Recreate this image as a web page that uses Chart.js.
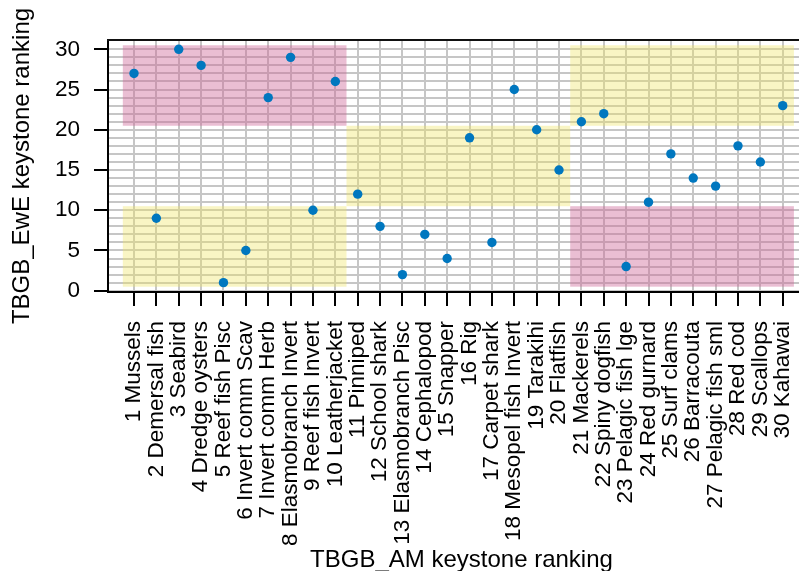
<!DOCTYPE html>
<html>
<head>
<meta charset="utf-8">
<script src="https://cdn.jsdelivr.net/npm/chart.js@4.4.1/dist/chart.umd.min.js"></script>
<style>
  html, body { margin: 0; padding: 0; background: #ffffff; overflow: hidden; width: 799px; height: 571px; }
  #wrap { position: absolute; left: 0; top: 0; width: 815px; height: 571px; }
  canvas { display: block; }
</style>
</head>
<body>
<div id="wrap"><canvas id="c" width="815" height="571" style="width:815px;height:571px"></canvas></div>
<script>
// ---- data ----
const groups = [
  "1 Mussels", "2 Demersal fish", "3 Seabird", "4 Dredge oysters", "5 Reef fish Pisc",
  "6 Invert comm Scav", "7 Invert comm Herb", "8 Elasmobranch Invert", "9 Reef fish Invert", "10 Leatherjacket",
  "11 Pinniped", "12 School shark", "13 Elasmobranch Pisc", "14 Cephalopod", "15 Snapper",
  "16 Rig", "17 Carpet shark", "18 Mesopel fish Invert", "19 Tarakihi", "20 Flatfish",
  "21 Mackerels", "22 Spiny dogfish", "23 Pelagic fish lge", "24 Red gurnard", "25 Surf clams",
  "26 Barracouta", "27 Pelagic fish sml", "28 Red cod", "29 Scallops", "30 Kahawai"
];
const amRank = [1,2,3,4,5,6,7,8,9,10,11,12,13,14,15,16,17,18,19,20,21,22,23,24,25,26,27,28,29,30];
const eweRank = [27, 9, 30, 28, 1, 5, 24, 29, 10, 26, 12, 8, 2, 7, 4, 19, 6, 25, 20, 15, 21, 22, 3, 11, 17, 14, 13, 18, 16, 23];
const yTickValues = [0,1,2,3,4,5,6,7,8,9,10,11,12,13,14,15,16,17,18,19,20,21,22,23,24,25,26,27,28,29,30];
const yLabelStep = 5;

// shaded quadrants (in ranking units)
const boxXFrom = [0.5, 0.5, 10.5, 20.5, 20.5];
const boxXTo   = [10.5, 10.5, 20.5, 30.5, 30.5];
const boxYFrom = [20.5, 0.5, 10.5, 20.5, 0.5];
const boxYTo   = [30.5, 10.5, 20.5, 30.5, 10.5];
const boxKind  = ["pink", "yellow", "yellow", "yellow", "pink"];

// ---- styles ----
const boxFill = { pink: "rgba(205,100,150,0.42)", yellow: "rgba(240,230,100,0.38)" };
const FONT = "'Liberation Sans', Arial, Helvetica, sans-serif";
const GRID = "#c6c6c6";

const quadrantPlugin = {
  id: "quadrants",
  beforeDatasetsDraw(chart) {
    const { ctx, chartArea, scales } = chart;
    const xs = scales.x, ys = scales.y;
    ctx.save();
    ctx.beginPath();
    ctx.rect(chartArea.left, chartArea.top, chartArea.right - chartArea.left, chartArea.bottom - chartArea.top);
    ctx.clip();
    boxXFrom.forEach((x0, i) => {
      const px0 = xs.getPixelForValue(x0);
      const px1 = xs.getPixelForValue(boxXTo[i]);
      const py0 = ys.getPixelForValue(boxYFrom[i]);
      const py1 = ys.getPixelForValue(boxYTo[i]);
      ctx.fillStyle = boxFill[boxKind[i]];
      ctx.fillRect(px0, py1, px1 - px0, py0 - py1);
    });
    ctx.restore();
  },
  afterDraw(chart) {
    const { ctx, chartArea } = chart;
    ctx.save();
    ctx.strokeStyle = "#111";
    ctx.lineWidth = 2;
    ctx.beginPath();
    ctx.moveTo(chartArea.left - 1, chartArea.top);
    ctx.lineTo(chart.width, chartArea.top);
    ctx.stroke();
    ctx.restore();
  }
};

new Chart(document.getElementById("c"), {
  type: "scatter",
  data: {
    datasets: [{
      data: amRank.map((a, i) => ({ x: a, y: eweRank[i] })),
      backgroundColor: "#0077bf",
      borderColor: "#0077bf",
      borderWidth: 0,
      pointRadius: 4.7,
      pointHoverRadius: 4.7
    }]
  },
  options: {
    responsive: false,
    animation: false,
    events: [],
    layout: { autoPadding: false, padding: { top: 40, left: 0, right: 0, bottom: 0 } },
    plugins: { legend: { display: false }, tooltip: { enabled: false } },
    scales: {
      x: {
        type: "linear",
        min: -0.162,
        max: 31.443,
        afterBuildTicks: (s) => { s.ticks = amRank.map(v => ({ value: v })); },
        afterFit: (s) => { s.height = 279; s.paddingLeft = 0; s.paddingRight = 0; },
        grid: { color: GRID, lineWidth: 2, tickLength: 14, tickColor: "#000", tickWidth: 2 },
        border: { display: true, color: "#000", width: 2 },
        ticks: {
          autoSkip: false, minRotation: 90, maxRotation: 90, padding: 15,
          color: "#000", font: { family: FONT, size: 22.5 },
          callback: (v) => groups[amRank.indexOf(v)]
        },
        title: {
          display: true, text: "TBGB_AM keystone ranking", color: "#000",
          font: { family: FONT, size: 24, lineHeight: 1 }, padding: { top: 0, bottom: -1.5 }
        }
      },
      y: {
        type: "linear",
        min: -0.16,
        max: 31.156,
        afterBuildTicks: (s) => { s.ticks = yTickValues.map(v => ({ value: v })); },
        afterFit: (s) => { s.width = 108; s.paddingTop = 0; s.paddingBottom = 0; },
        grid: {
          color: GRID, lineWidth: 2, tickLength: 14, tickWidth: 2,
          tickColor: (c) => (c.tick && c.tick.value % yLabelStep === 0) ? "#000" : "rgba(0,0,0,0)"
        },
        border: { display: true, color: "#000", width: 2 },
        ticks: {
          autoSkip: false, padding: 14, color: "#000", font: { family: FONT, size: 22.5 },
          callback: (v) => (v % yLabelStep === 0 ? String(v) : "")
        },
        title: {
          display: true, text: "TBGB_EwE keystone ranking", color: "#000",
          font: { family: FONT, size: 24, lineHeight: 1 }, padding: { top: 10.5, bottom: 0 }
        }
      }
    }
  },
  plugins: [quadrantPlugin]
});
</script>
</body>
</html>
